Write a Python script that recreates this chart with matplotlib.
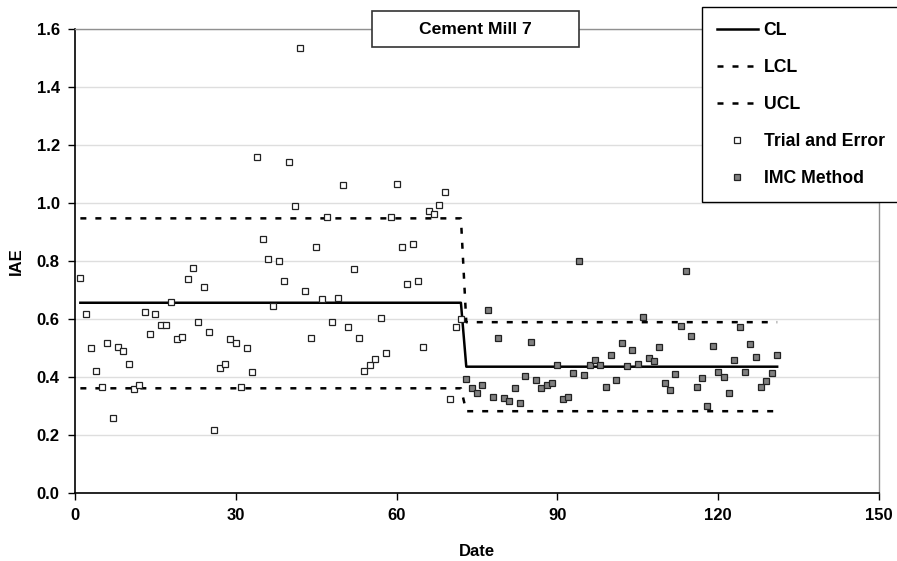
import numpy as np
import matplotlib
matplotlib.use('Agg')
import matplotlib.pyplot as plt
from matplotlib.patches import Rectangle

plt.rcParams['font.family'] = ['Liberation Sans', 'DejaVu Sans']
plt.rcParams['font.weight'] = 'bold'

# Trial and Error tuning, days 1..72
trial_days = list(range(1, 73))
trial_iae = [0.739, 0.616, 0.500, 0.421, 0.363, 0.515, 0.257, 0.503, 0.490, 0.445,
             0.357, 0.370, 0.622, 0.547, 0.617, 0.577, 0.578, 0.658, 0.531, 0.536,
             0.737, 0.774, 0.588, 0.710, 0.554, 0.216, 0.431, 0.443, 0.531, 0.515,
             0.366, 0.498, 0.416, 1.159, 0.874, 0.807, 0.645, 0.800, 0.730, 1.141,
             0.990, 1.534, 0.696, 0.535, 0.846, 0.667, 0.951, 0.589, 0.670, 1.062,
             0.571, 0.771, 0.535, 0.421, 0.439, 0.462, 0.601, 0.482, 0.951, 1.064,
             0.848, 0.718, 0.859, 0.730, 0.502, 0.970, 0.960, 0.991, 1.036, 0.324,
             0.571, 0.598]

# IMC method tuning, days 73..131
imc_days = list(range(73, 132))
imc_iae = [0.391, 0.362, 0.343, 0.371, 0.631, 0.330, 0.534, 0.328, 0.317, 0.360,
           0.308, 0.401, 0.521, 0.390, 0.361, 0.372, 0.378, 0.441, 0.323, 0.329,
           0.413, 0.799, 0.406, 0.439, 0.458, 0.440, 0.366, 0.475, 0.390, 0.515,
           0.436, 0.491, 0.445, 0.605, 0.464, 0.455, 0.501, 0.379, 0.355, 0.410,
           0.576, 0.765, 0.540, 0.366, 0.397, 0.300, 0.505, 0.415, 0.400, 0.345,
           0.458, 0.571, 0.417, 0.512, 0.469, 0.365, 0.385, 0.414, 0.475]

# control limits for each phase
cl_trial, ucl_trial, lcl_trial = 0.655, 0.946, 0.360
cl_imc, ucl_imc, lcl_imc = 0.4345, 0.588, 0.281

days = trial_days + imc_days
cl = [cl_trial] * len(trial_days) + [cl_imc] * len(imc_days)
ucl = [ucl_trial] * len(trial_days) + [ucl_imc] * len(imc_days)
lcl = [lcl_trial] * len(trial_days) + [lcl_imc] * len(imc_days)

fig = plt.figure(figsize=(8.97, 5.61), dpi=100)
ax = fig.add_axes([75 / 897, 68.3 / 561, 804 / 897, 464 / 561])

dash = (2.4, 3.6)
ax.plot(days, cl, color='black', lw=1.8, label='CL', zorder=3)
ax.plot(days, lcl, color='black', lw=1.8, ls=(0, dash), label='LCL', zorder=3)
ax.plot(days, ucl, color='black', lw=1.8, ls=(0, dash), label='UCL', zorder=3)
ax.plot(trial_days, trial_iae, ls='none', marker='s', ms=4.9, mfc='white',
        mec='#222222', mew=0.9, label='Trial and Error', zorder=4)
ax.plot(imc_days, imc_iae, ls='none', marker='s', ms=4.9, mfc='#808080',
        mec='#222222', mew=0.9, label='IMC Method', zorder=4)

ax.set_xlim(0, 150)
ax.set_ylim(0, 1.6)
ax.set_xticks([0, 30, 60, 90, 120, 150])
ax.set_yticks(np.arange(0, 1.61, 0.2))
ax.set_yticklabels([f'{v:.1f}' for v in np.arange(0, 1.61, 0.2)])
ax.tick_params(direction='out', length=5, width=1, labelsize=12, pad=6)
ax.grid(axis='y', color='#dedede', lw=1)
ax.set_axisbelow(True)
for s in ['left', 'bottom']:
    ax.spines[s].set_color('black')
    ax.spines[s].set_linewidth(1.2)
for s in ['top', 'right']:
    ax.spines[s].set_color('#909090')
    ax.spines[s].set_linewidth(1)

ax.set_xlabel('Date', fontsize=12, fontweight='bold', labelpad=15)
ax.set_ylabel('IAE', fontsize=12, fontweight='bold', labelpad=9)

leg = ax.legend(loc='upper left', bbox_to_anchor=(702 / 897, 1 - 202 / 561, 220 / 897, 195 / 561),
                bbox_transform=fig.transFigure, mode='expand', borderaxespad=0,
                fontsize=12.7, frameon=True, fancybox=False, framealpha=1,
                handlelength=2.3, handletextpad=0.34, labelspacing=1.13,
                borderpad=0.85, markerscale=0.8)
leg.get_frame().set_edgecolor('black')
leg.get_frame().set_linewidth(1)
leg.set_zorder(10)

# title box
fig.add_artist(Rectangle((371.7 / 897, 1 - 47.3 / 561), 207.3 / 897, 36.6 / 561,
                         transform=fig.transFigure, facecolor='white',
                         edgecolor='#333333', lw=1.2, zorder=10))
fig.text(475.3 / 897, 1 - 29 / 561, 'Cement Mill 7', ha='center', va='center',
         fontsize=12.6, fontweight='bold', zorder=11)

fig.savefig('out.png', dpi=100)
